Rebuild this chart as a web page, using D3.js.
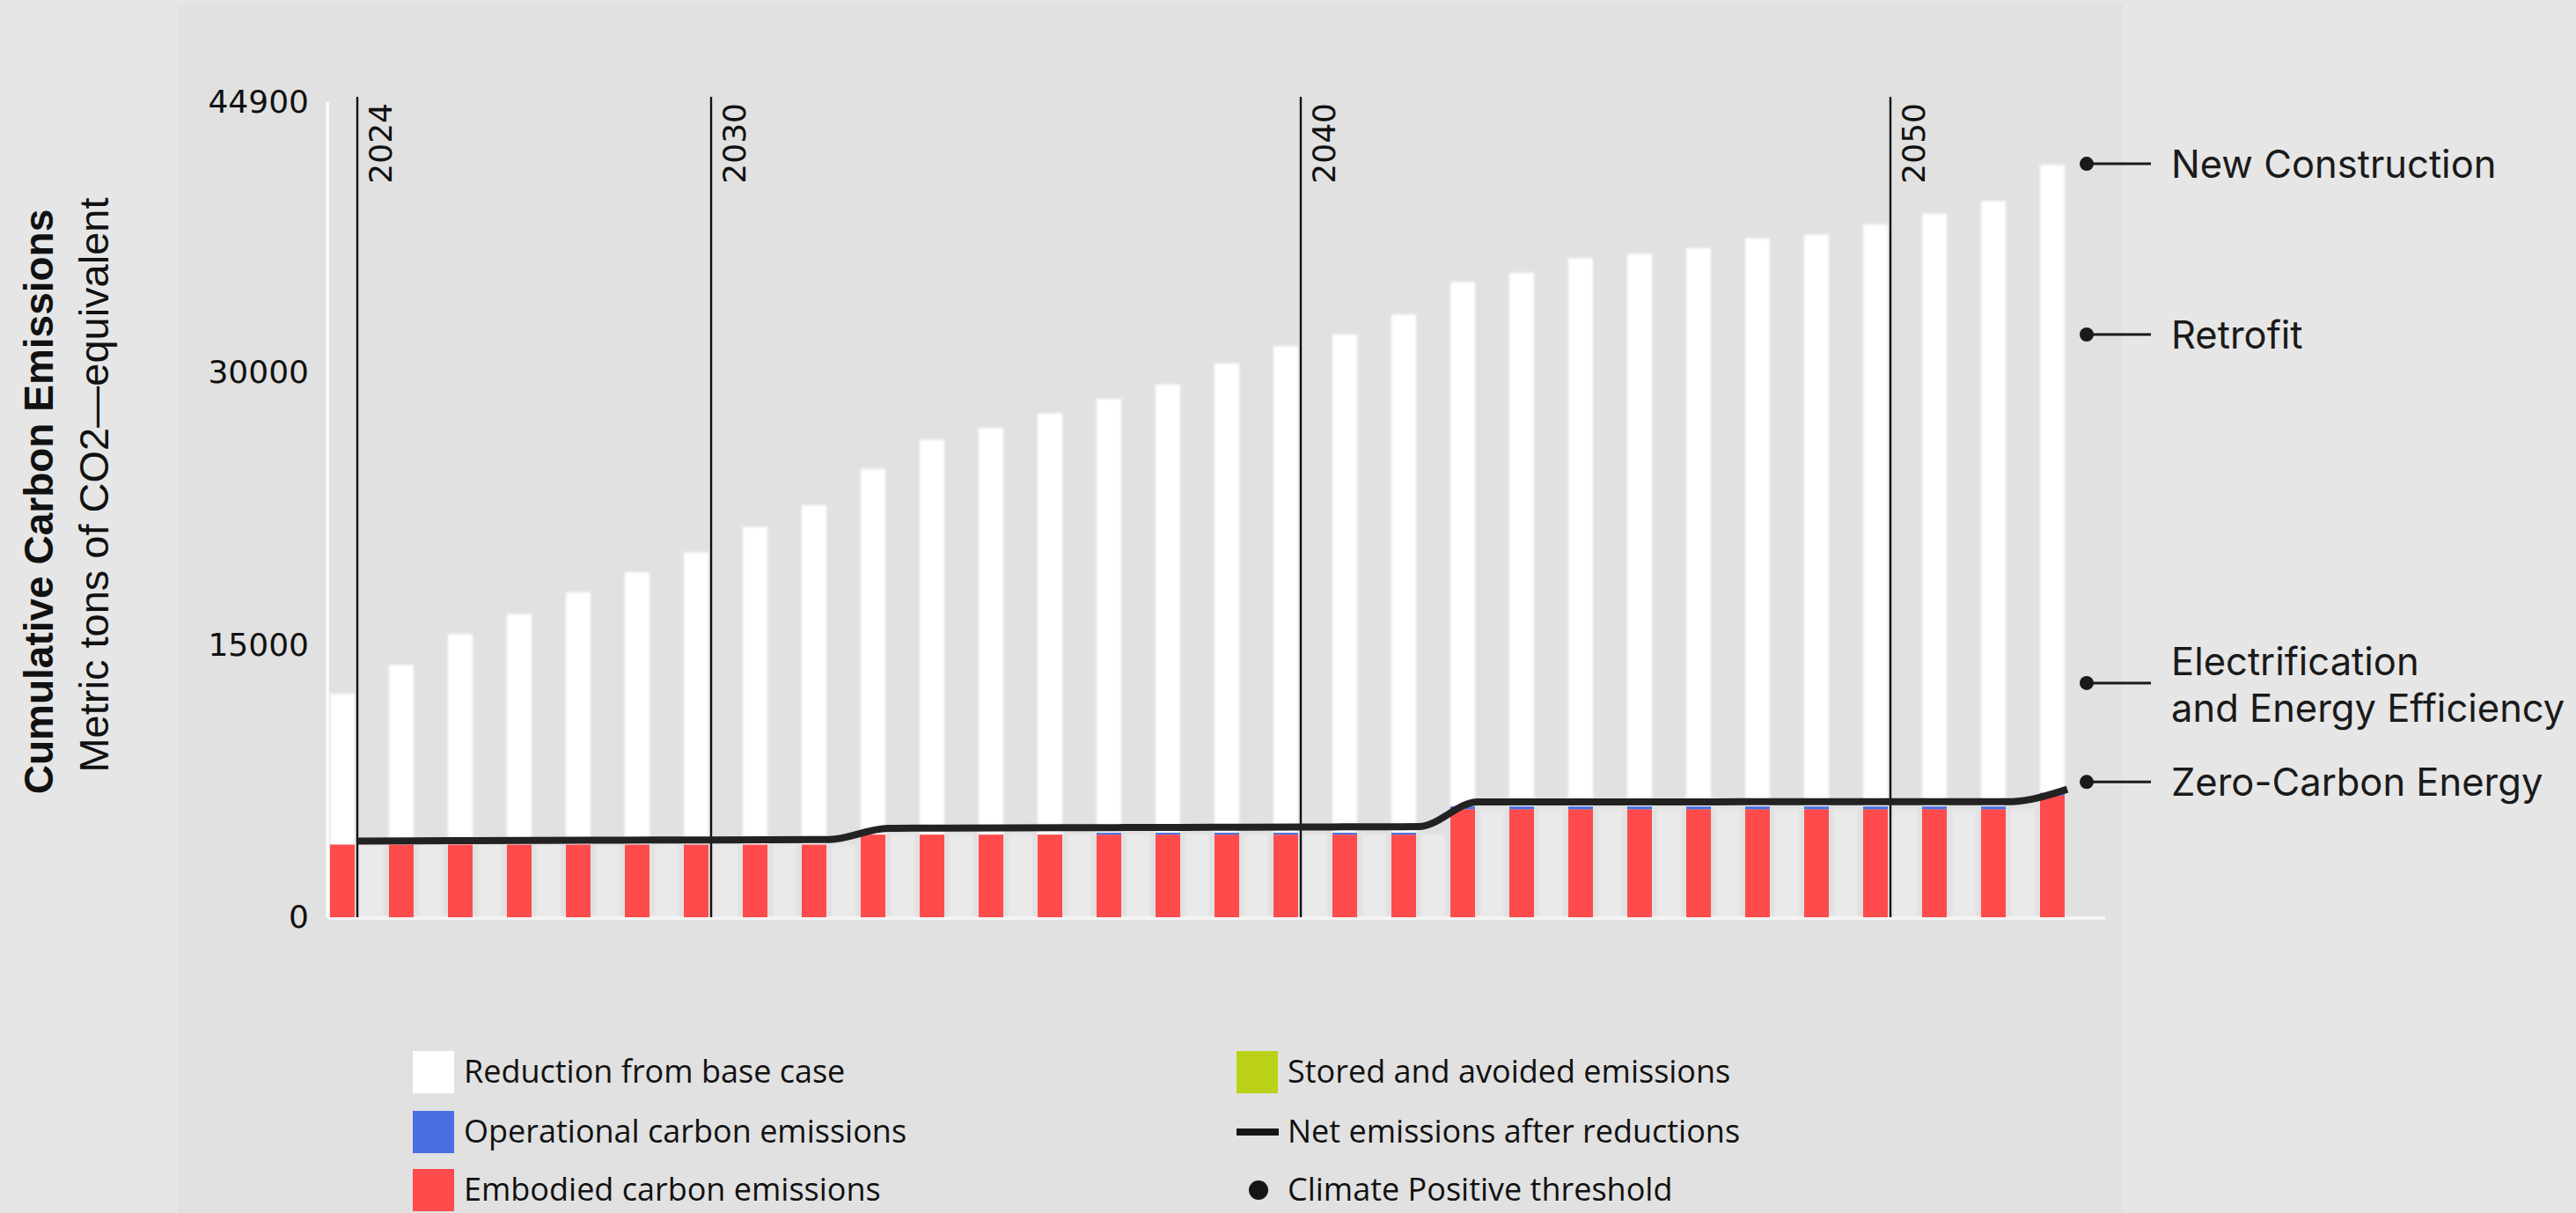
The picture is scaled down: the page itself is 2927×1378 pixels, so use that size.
<!DOCTYPE html>
<html>
<head>
<meta charset="utf-8">
<script src="https://cdn.jsdelivr.net/npm/d3@7"></script>
<style>
  html, body { margin: 0; padding: 0; background: #e6e6e6; }
  svg { display: block; }
</style>
</head>
<body>
<svg id="chart" width="2927" height="1378"></svg>
<script>
// ---- Data (metric tons CO2e, cumulative) ----
const years = [2024, 2025, 2026, 2027, 2028, 2029, 2030, 2031, 2032, 2033,
               2034, 2035, 2036, 2037, 2038, 2039, 2040, 2041, 2042, 2043,
               2044, 2045, 2046, 2047, 2048, 2049, 2050, 2051, 2052, 2053];

const embodied = [4000, 4000, 4000, 4000, 4000, 4000, 4000, 4000, 4000, 4550,
                  4550, 4550, 4550, 4550, 4550, 4550, 4550, 4550, 4550, 5950,
                  5950, 5950, 5950, 5950, 5950, 5950, 5950, 5950, 5950, 6700];

const operational = [0, 0, 0, 0, 0, 0, 0, 0, 0, 0,
                     0, 0, 0, 100, 100, 100, 100, 100, 100, 150,
                     150, 150, 150, 150, 150, 150, 150, 150, 150, 150];

const reduction = [8300, 9900, 11600, 12700, 13900, 15000, 16100, 17500, 18700, 20150,
                   21750, 22400, 23200, 23900, 24700, 25850, 26800, 27450, 28550, 28900,
                   29400, 30200, 30450, 30750, 31300, 31500, 32050, 32650, 33350, 34600];

const netEmissions = [4200, 4210, 4220, 4230, 4240, 4250, 4260, 4270, 4280, 4900,
                      4910, 4920, 4930, 4940, 4950, 4960, 4970, 4980, 4990, 6350,
                      6350, 6350, 6350, 6355, 6360, 6360, 6360, 6360, 6360, 7050];

const yTicks = [0, 15000, 30000, 44900];
const milestoneYears = [2024, 2030, 2040, 2050];

const strategyLabels = [["New Construction"], ["Retrofit"],
                        ["Electrification", "and Energy Efficiency"], ["Zero-Carbon Energy"]];
const strategyValues = [41500, 32100, 12900, 7450];

const legendLabels = ["Reduction from base case", "Operational carbon emissions", "Embodied carbon emissions",
                      "Stored and avoided emissions", "Net emissions after reductions", "Climate Positive threshold"];
const legendKinds = ["box", "box", "box", "box", "line", "dot"];

const colors = {
  reduction: "#ffffff",
  operational: "#4a6fe0",
  embodied: "#ff4b4b",
  stored: "#bad118",
  ink: "#161616"
};
const legendColors = [colors.reduction, colors.operational, colors.embodied, colors.stored, colors.ink, colors.ink];

// ---- Layout ----
const svg = d3.select("#chart");
const W = 2927, H = 1378;

svg.append("rect").attr("width", W).attr("height", H).attr("fill", "#e6e6e6");
svg.append("rect").attr("x", 202).attr("y", 5).attr("width", 2210).attr("height", H - 5).attr("fill", "#e1e1e1");

const x = d3.scaleBand().domain(years).range([375, 2346]).paddingInner(0.582).paddingOuter(0);
const y = d3.scaleLinear().domain([0, 44900]).range([1042, 116]);
const edgeX = d => x(d) + x.bandwidth() + 3;

const defs = svg.append("defs");
defs.append("filter").attr("id", "soft")
  .attr("x", "-20%").attr("y", "-5%").attr("width", "140%").attr("height", "110%")
  .append("feGaussianBlur").attr("stdDeviation", 1.6);

// left rule of the plot
svg.append("rect").attr("x", x(years[0]) - 5).attr("y", y(44900)).attr("width", 4)
  .attr("height", y(0) - y(44900)).attr("fill", "#ffffff").attr("opacity", 0.8);

// ---- Stacked bars ----
const rows = years.map((yr, i) => ({
  year: yr, emb: embodied[i], op: operational[i], red: reduction[i], net: netEmissions[i]
}));

// pale fill in the gaps between the columns, below the net line
svg.append("g").selectAll("rect").data(rows.slice(0, -1)).join("rect")
  .attr("x", d => x(d.year) + x.bandwidth() + 6)
  .attr("width", x.step() - x.bandwidth() - 12)
  .attr("y", d => y(d.emb))
  .attr("height", d => y(0) - y(d.emb))
  .attr("fill", "#ffffff").attr("opacity", 0.3)
  .attr("filter", "url(#soft)");

// baseline
svg.append("rect").attr("x", x(years[0]) - 3).attr("y", y(0) - 1).attr("width", 2020)
  .attr("height", 4).attr("fill", "#f4f4f4");

const bars = svg.append("g");
bars.append("g").attr("filter", "url(#soft)")
  .selectAll("rect").data(rows).join("rect")
  .attr("x", d => x(d.year)).attr("width", x.bandwidth())
  .attr("y", d => y(d.emb + d.op + d.red))
  .attr("height", d => y(d.emb + d.op) - y(d.emb + d.op + d.red))
  .attr("fill", colors.reduction);

bars.append("g").selectAll("rect").data(rows).join("rect")
  .attr("x", d => x(d.year)).attr("width", x.bandwidth())
  .attr("y", d => y(d.emb))
  .attr("height", d => y(0) - y(d.emb))
  .attr("fill", colors.embodied);

bars.append("g").selectAll("rect").data(rows.filter(d => d.op > 0)).join("rect")
  .attr("x", d => x(d.year)).attr("width", x.bandwidth())
  .attr("y", d => y(d.emb + d.op))
  .attr("height", d => y(d.emb) - y(d.emb + d.op))
  .attr("fill", colors.operational);

// ---- Milestone year rules ----
const ms = svg.append("g");
ms.selectAll("line").data(milestoneYears).join("line")
  .attr("x1", edgeX).attr("x2", edgeX)
  .attr("y1", 110).attr("y2", y(0))
  .attr("stroke", "#111").attr("stroke-width", 2.4);
ms.selectAll("text").data(milestoneYears).join("text")
  .attr("transform", d => `translate(${edgeX(d) + 39},117) rotate(-90)`)
  .attr("text-anchor", "end")
  .attr("font-family", "'DejaVu Sans', sans-serif")
  .attr("font-size", 36)
  .attr("fill", "#111")
  .text(d => d);

// ---- Net emissions line ----
const netLine = d3.line()
  .x((d, i) => edgeX(years[i]))
  .y(d => y(d))
  .curve(d3.curveMonotoneX);
svg.append("path").datum(netEmissions)
  .attr("d", netLine)
  .attr("fill", "none")
  .attr("stroke", "#222")
  .attr("stroke-width", 8);

// ---- Y axis ----
const yAxis = svg.append("g").attr("transform", "translate(375,0)")
  .call(d3.axisLeft(y).tickValues(yTicks).tickSize(0).tickPadding(24).tickFormat(d3.format("d")));
yAxis.select(".domain").remove();
yAxis.selectAll("text")
  .attr("font-family", "'DejaVu Sans', sans-serif")
  .attr("font-size", 36)
  .attr("fill", "#111");

// ---- Axis titles ----
svg.append("text")
  .attr("transform", "translate(60,570) rotate(-90)")
  .attr("text-anchor", "middle")
  .attr("font-family", "'Liberation Sans', Arial, sans-serif")
  .attr("font-weight", "bold")
  .attr("font-size", 46)
  .attr("fill", "#111")
  .text("Cumulative Carbon Emissions");
svg.append("text")
  .attr("transform", "translate(123,551) rotate(-90)")
  .attr("text-anchor", "middle")
  .attr("font-family", "'Liberation Sans', Arial, sans-serif")
  .attr("font-size", 47)
  .attr("fill", "#111")
  .text("Metric tons of CO2\u2014equivalent");

// ---- Strategy call-outs on the right ----
const callouts = svg.append("g").selectAll("g")
  .data(strategyLabels.map((lab, i) => ({ lab, v: strategyValues[i] })))
  .join("g")
  .attr("transform", d => `translate(0,${y(d.v)})`);
callouts.append("circle").attr("cx", 2371).attr("cy", 0).attr("r", 8).attr("fill", "#1a1a1a");
callouts.append("line").attr("x1", 2371).attr("x2", 2444).attr("y1", 0).attr("y2", 0)
  .attr("stroke", "#1a1a1a").attr("stroke-width", 3);
callouts.append("text")
  .attr("font-family", "Inter, 'Open Sans', sans-serif")
  .attr("font-size", 43.5)
  .attr("fill", "#1a1a1a")
  .selectAll("tspan").data(d => d.lab.map((t, j) => ({ t, j, n: d.lab.length })))
  .join("tspan")
  .attr("x", 2467)
  .attr("y", d => d.n === 1 ? 16 : (d.j === 0 ? -9 : 44))
  .text(d => d.t);

// ---- Legend ----
const legendX = [469, 469, 469, 1405, 1405, 1405];
const legendY = [1218, 1286, 1352, 1218, 1286, 1352];
const legend = svg.append("g").selectAll("g")
  .data(legendLabels.map((t, i) => ({ t, kind: legendKinds[i], c: legendColors[i], x: legendX[i], y: legendY[i] })))
  .join("g")
  .attr("transform", d => `translate(${d.x},${d.y})`);
legend.filter(d => d.kind === "box").append("rect")
  .attr("x", 0).attr("y", -24).attr("width", 47).attr("height", 48).attr("fill", d => d.c);
legend.filter(d => d.kind === "line").append("rect")
  .attr("x", 0).attr("y", -4).attr("width", 48).attr("height", 8).attr("fill", d => d.c);
legend.filter(d => d.kind === "dot").append("circle")
  .attr("cx", 25).attr("cy", 0).attr("r", 11).attr("fill", d => d.c);
legend.append("text")
  .attr("x", 58).attr("y", 12)
  .attr("font-family", "'Open Sans', sans-serif")
  .attr("font-size", 36)
  .attr("fill", "#111")
  .text(d => d.t);
</script>
</body>
</html>
